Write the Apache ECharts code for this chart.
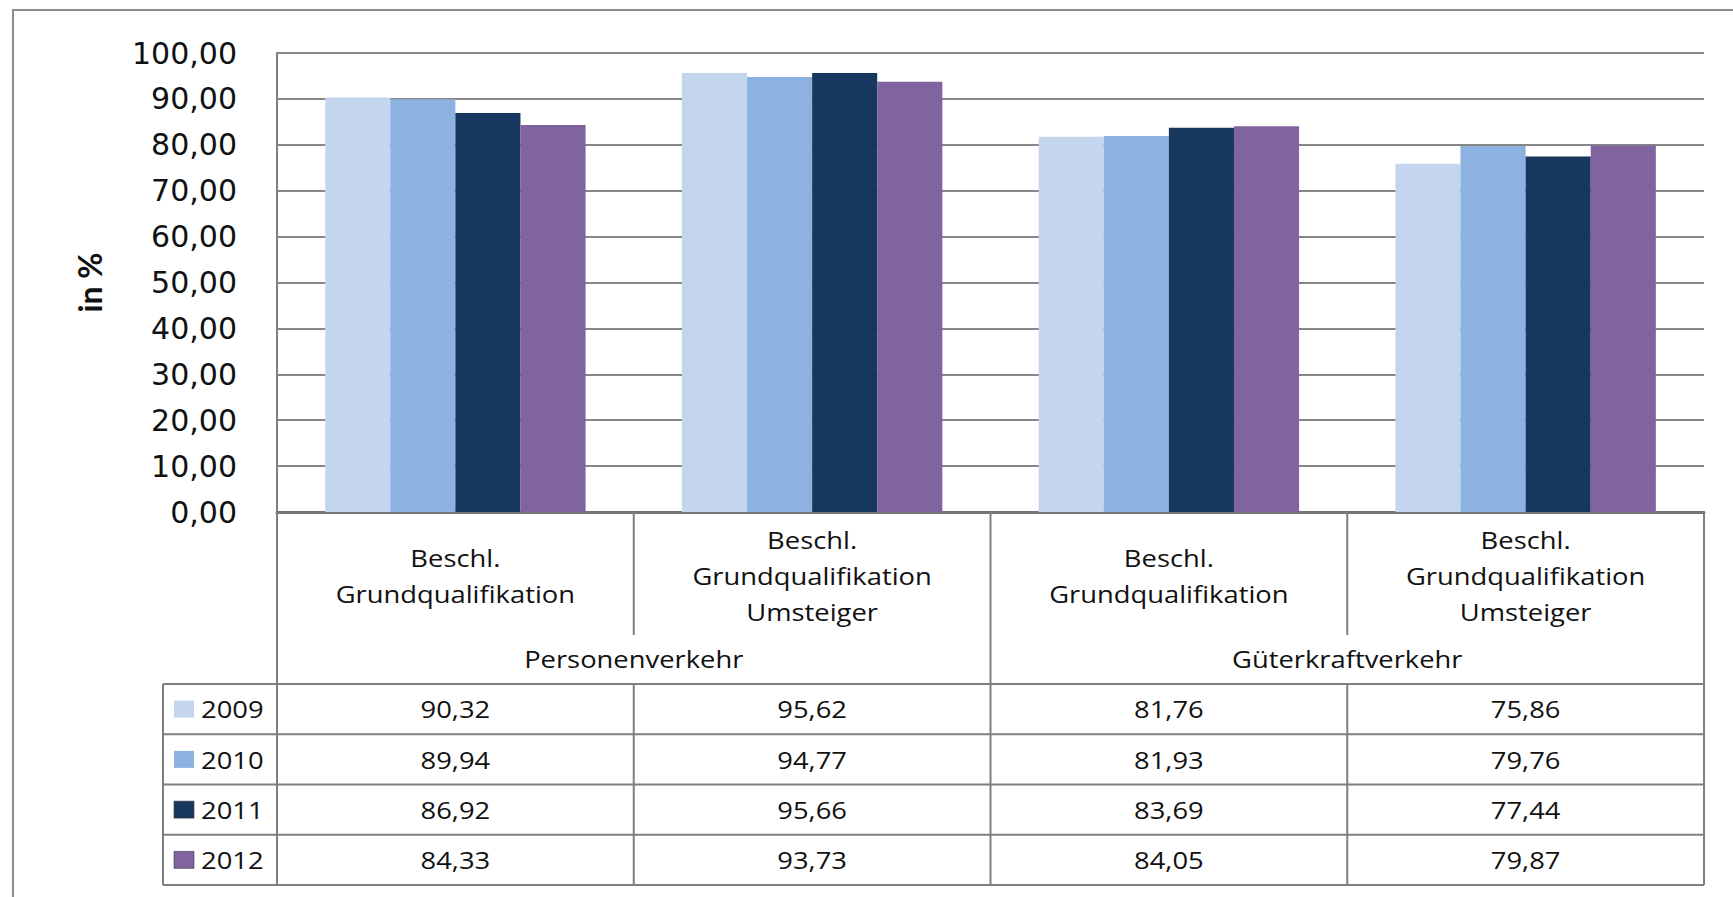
<!DOCTYPE html>
<html><head><meta charset="utf-8">
<script src="https://cdn.jsdelivr.net/npm/echarts@6/dist/echarts.min.js"></script>
<style>html,body{margin:0;padding:0;background:#fff}#c{width:1733px;height:897px}</style>
</head><body><div id="c"></div>
<script>
// ---- data ----
const groups = ['Personenverkehr', 'Güterkraftverkehr'];
const categories = ['Beschl.\nGrundqualifikation', 'Beschl.\nGrundqualifikation\nUmsteiger', 'Beschl.\nGrundqualifikation', 'Beschl.\nGrundqualifikation\nUmsteiger'];
const categoryGroup = [0, 0, 1, 1];
const years = ['2009', '2010', '2011', '2012'];
const v2009 = [90.32, 95.62, 81.76, 75.86];
const v2010 = [89.94, 94.77, 81.93, 79.76];
const v2011 = [86.92, 95.66, 83.69, 77.44];
const v2012 = [84.33, 93.73, 84.05, 79.87];
const seriesValues = [v2009, v2010, v2011, v2012];
const yMin = 0, yMax = 100, yStep = 10;
const yAxisName = 'in %';
const colors = ['#C3D6EE', '#8DB1E1', '#17375E', '#8064A2'];

// ---- layout ----
const L = 277, R = 1704, T = 53, B = 512;
const subBottom = 635, headerBottom = 684, tableBottom = 885, legendLeft = 163;
const lineColor = '#7f7f7f';
const textFont = 'Open Sans';
const fmt = v => v.toFixed(2).replace('.', ',');

const chart = echarts.init(document.getElementById('c'), null, {renderer: 'svg'});
const option = {
  animation: false,
  backgroundColor: '#fff',
  grid: {left: L, right: 1733 - R, top: T, bottom: 897 - B, containLabel: false},
  xAxis: {
    type: 'category', data: categories,
    axisLine: {show: true, lineStyle: {color: '#757575', width: 3}},
    axisTick: {show: false}, axisLabel: {show: false}, splitLine: {show: false}
  },
  yAxis: {
    type: 'value', min: yMin, max: yMax, interval: yStep,
    name: yAxisName, nameLocation: 'middle', nameGap: 172,
    nameTextStyle: {fontFamily: 'Lato', fontWeight: 'bold', fontSize: 32, color: '#111'},
    axisLine: {show: true, lineStyle: {color: '#7f7f7f', width: 2}},
    axisTick: {show: false},
    axisLabel: {formatter: v => fmt(v), fontFamily: 'DejaVu Sans', fontSize: 30, color: '#111', margin: 40},
    splitLine: {show: true, lineStyle: {color: '#868686', width: 2}}
  },
  series: years.map((y, i) => ({
    name: y, type: 'bar', data: seriesValues[i],
    barGap: '0%', barCategoryGap: '27%',
    itemStyle: {color: colors[i]}
  }))
};
chart.setOption(option);

// ---- data table drawn below the axis ----
const cx = categories.map((c, i) => chart.convertToPixel({xAxisIndex: 0}, i));
const band = (R - L) / categories.length;
const rowH = (tableBottom - headerBottom) / years.length;
const g = [];
const line = (x1, y1, x2, y2, w) => g.push({type: 'line', silent: true, z: 10,
  shape: {x1, y1, x2, y2}, style: {stroke: lineColor, lineWidth: w || 2}});
const text = (x, y, s, align, extra) => g.push(Object.assign({type: 'text', silent: true, z: 11,
  x, y, scaleX: 1.14,
  style: {text: s, fill: '#111', fontFamily: textFont, fontSize: 24, lineHeight: 36,
    align: align || 'center', verticalAlign: 'middle'}}, extra || {}));

// outer frame
g.push({type: 'rect', silent: true, z: 0, shape: {x: 13, y: 10, width: 1760, height: 920},
  style: {fill: 'none', stroke: '#8c8c8c', lineWidth: 2}});

// verticals
line(L, B, L, tableBottom);
line(R, B, R, tableBottom);
for (let i = 1; i < categories.length; i++) {
  const x = L + band * i;
  if (categoryGroup[i] !== categoryGroup[i - 1]) {
    line(x, B, x, tableBottom);
  } else {
    line(x, B, x, subBottom);
    line(x, headerBottom, x, tableBottom);
  }
}
line(legendLeft, headerBottom, legendLeft, tableBottom);
// horizontals
for (let r = 0; r <= years.length; r++) {
  const y = headerBottom + rowH * r;
  line(legendLeft, y, R, y);
}

// category labels
categories.forEach((c, i) => text(cx[i], (B + subBottom) / 2 + 2, c));
// group labels
groups.forEach((gname, gi) => {
  const idx = categoryGroup.map((v, i) => v === gi ? i : -1).filter(i => i >= 0);
  const x = (cx[idx[0]] + cx[idx[idx.length - 1]]) / 2;
  text(x, 659, gname);
});
// rows
years.forEach((y, r) => {
  const yc = headerBottom + rowH * (r + 0.5);
  g.push({type: 'rect', silent: true, z: 11, shape: {x: 174, y: yc - 8.5, width: 20, height: 17},
    style: {fill: colors[r], stroke: r >= 2 ? '#3a3a3a' : 'none', lineWidth: 0.6}});
  text(201, yc, y, 'left');
  seriesValues[r].forEach((v, i) => text(cx[i], yc, fmt(v)));
});

chart.setOption({graphic: {elements: g}});
</script>
</body></html>
